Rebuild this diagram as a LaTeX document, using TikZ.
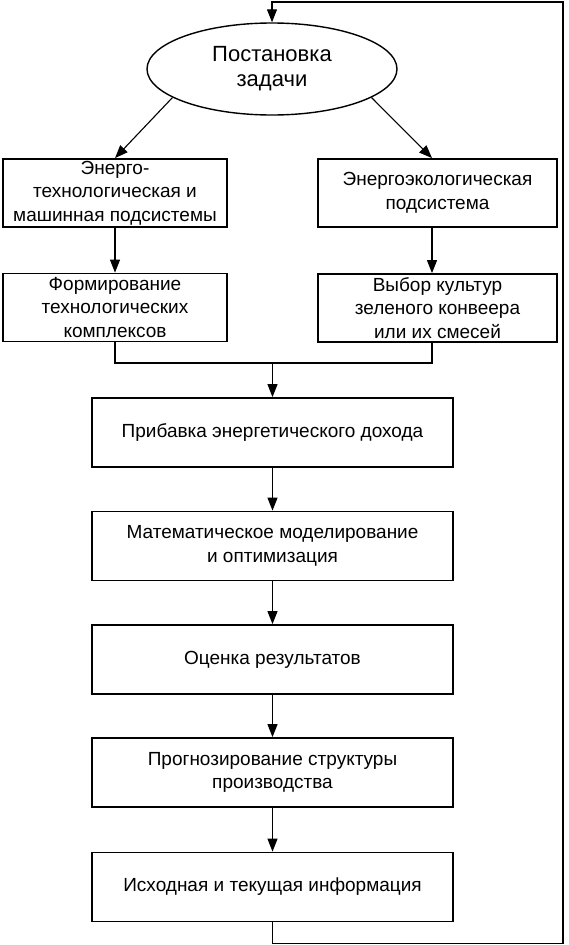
\documentclass[tikz,border=0pt]{standalone}
\usepackage{fontspec}
\setmainfont{Liberation Sans}
\usetikzlibrary{arrows.meta,shapes.geometric,calc}
\tikzset{
  box/.style={draw,line width=1.8pt,rectangle,inner sep=0pt,align=center,
    font=\fontsize{19}{23.5}\selectfont},
  sbox/.style={box,minimum width=224pt,minimum height=68pt},
  rbox/.style={box,minimum width=239pt,minimum height=68pt},
  wbox/.style={box,minimum width=361pt,minimum height=69pt},
  conn/.style={line width=1.1pt},
  arr/.style={conn,-{Triangle[length=13pt,width=10pt]}}
}
\begin{document}
\begin{tikzpicture}[x=1pt,y=-1pt]
\useasboundingbox (0,0) rectangle (568,945);
\node[ellipse,draw,line width=1.4pt,minimum width=250pt,minimum height=92pt,inner sep=0pt,
  align=center,font=\fontsize{22}{25}\selectfont] (ell) at (272,69) {Постановка\\задачи};
\node[sbox] (b1) at (115,193) {Энерго-\\технологическая и\\машинная подсистемы};
\node[rbox] (b2) at (437.5,193) {Энергоэкологическая\\подсистема};
\node[sbox] (b3) at (115,307.5) {Формирование\\технологических\\комплексов};
\node[rbox] (b4) at (437.5,308) {Выбор культур\\зеленого конвеера\\или их смесей};
\node[wbox] (b5) at (272.5,432.5) {Прибавка энергетического дохода};
\node[wbox] (b6) at (272.5,546) {Математическое моделирование\\и оптимизация};
\node[wbox] (b7) at (272.5,659.5) {Оценка результатов};
\node[wbox] (b8) at (272.5,772.5) {Прогнозирование структуры\\производства};
\node[wbox] (b9) at (272.5,887) {Исходная и текущая информация};
\coordinate (m) at (272.5,363);
\coordinate (rt) at (563,2);
% arrows from ellipse
\draw[arr] (ell.196) -- (b1.north);
\draw[arr] (ell.344) -- ([xshift=-5.5pt]b2.north);
\draw[arr] (b1) -- (b3);
\draw[arr] ([xshift=-5.5pt]b2.south) -- ([xshift=-5.5pt]b4.north);
\draw[conn] (b3.south) |- (m);
\draw[conn] ([xshift=-5.5pt]b4.south) |- (m);
\draw[arr] (m) -- (b5.north);
\draw[arr] (b5) -- (b6);
\draw[arr] (b6) -- (b7);
\draw[arr] (b7) -- (b8);
\draw[arr] (b8) -- (b9);
\draw[arr] (b9.south) -- ++(0,21) -| (rt) -| (ell.north);
\end{tikzpicture}
\end{document}
